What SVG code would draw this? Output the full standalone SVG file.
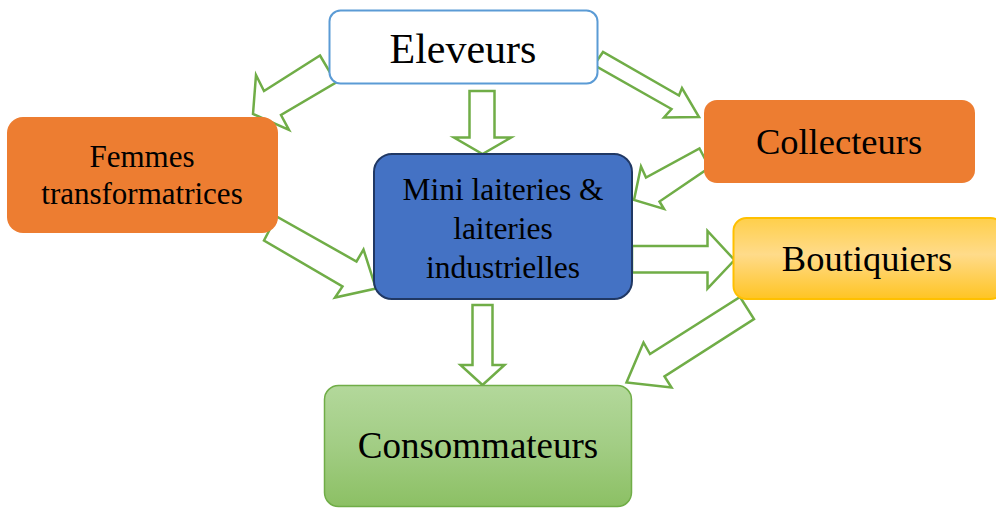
<svg xmlns="http://www.w3.org/2000/svg" width="996" height="508" viewBox="0 0 996 508">
<defs>
<linearGradient id="gy" x1="0" y1="0" x2="0" y2="1">
<stop offset="0" stop-color="#ffcf4a"/>
<stop offset="0.45" stop-color="#ffdb8a"/>
<stop offset="1" stop-color="#ffc423"/>
</linearGradient>
<linearGradient id="gg" x1="0" y1="0" x2="0" y2="1">
<stop offset="0" stop-color="#b3d89b"/>
<stop offset="0.5" stop-color="#a2cd84"/>
<stop offset="1" stop-color="#8cc064"/>
</linearGradient>
<style>
.t{font-family:"Liberation Serif","Times New Roman",serif;fill:#000;text-anchor:middle}
.ar{fill:#fff;stroke:#70ad47;stroke-width:2.5;stroke-linejoin:miter}
</style>
</defs>
<g id="connectors">
<polygon class="ar" points="320,55.5 336,82.5 281,115 289,130 253,114 256,75 264,91"/>
<polygon class="ar" points="603,52 594,65 671.5,109 664,117.5 699,117 682,88 679,95.5"/>
<polygon class="ar" points="699.5,148.5 709.5,167.5 659.5,201.5 664,209 634,200 641,166.5 646,177.5"/>
<polygon class="ar" points="632,246 707.5,246 707.5,231 734.5,260 707.5,288.5 707.5,272.5 632,272.5"/>
<polygon class="ar" points="740,297 754,319 664.5,376.5 671.5,387.5 626.5,382.5 643.5,342.5 650,354"/>
<polygon class="ar" points="276.5,216.5 264,240.5 342.5,286.5 335,297.5 376,288.5 363.5,249.5 356.5,261.5"/>
<polygon class="ar" points="469.5,91 494.5,91 494.5,137.5 511,137.5 482.5,154 454,137.5 469.5,137.5"/>
<polygon class="ar" points="472.5,305 492.5,305 492.5,365 504.5,365 482.5,385 460.5,365 472.5,365"/>
</g>
<g id="eleveurs">
<rect x="329.5" y="10.5" width="268" height="73" rx="11" fill="#fff" stroke="#5b9bd5" stroke-width="2"/>
<text class="t" x="463" y="63" font-size="42">Eleveurs</text>
</g>
<g id="femmes">
<rect x="7" y="117" width="271" height="116" rx="16" fill="#ed7d31"/>
<text class="t" x="142" y="166.5" font-size="31">Femmes</text>
<text class="t" x="142" y="204" font-size="31">transformatrices</text>
</g>
<g id="collecteurs">
<rect x="704" y="100" width="271" height="83" rx="13" fill="#ed7d31"/>
<text class="t" x="839" y="154" font-size="36.5">Collecteurs</text>
</g>
<g id="mini-laiteries">
<rect x="374" y="154" width="258" height="145" rx="18" fill="#4472c4" stroke="#203864" stroke-width="2"/>
<text class="t" x="503" y="200" font-size="31.5">Mini laiteries &amp;</text>
<text class="t" x="503" y="239" font-size="31.5">laiteries</text>
<text class="t" x="503" y="278" font-size="31.5">industrielles</text>
</g>
<g id="boutiquiers">
<rect x="733.5" y="218" width="270" height="81" rx="13" fill="url(#gy)" stroke="#ffc000" stroke-width="2"/>
<text class="t" x="867" y="271" font-size="36.5">Boutiquiers</text>
</g>
<g id="consommateurs">
<rect x="324.5" y="385.5" width="307" height="121" rx="14" fill="url(#gg)" stroke="#70ad47" stroke-width="1.5"/>
<text class="t" x="478" y="458" font-size="37">Consommateurs</text>
</g>
</svg>
